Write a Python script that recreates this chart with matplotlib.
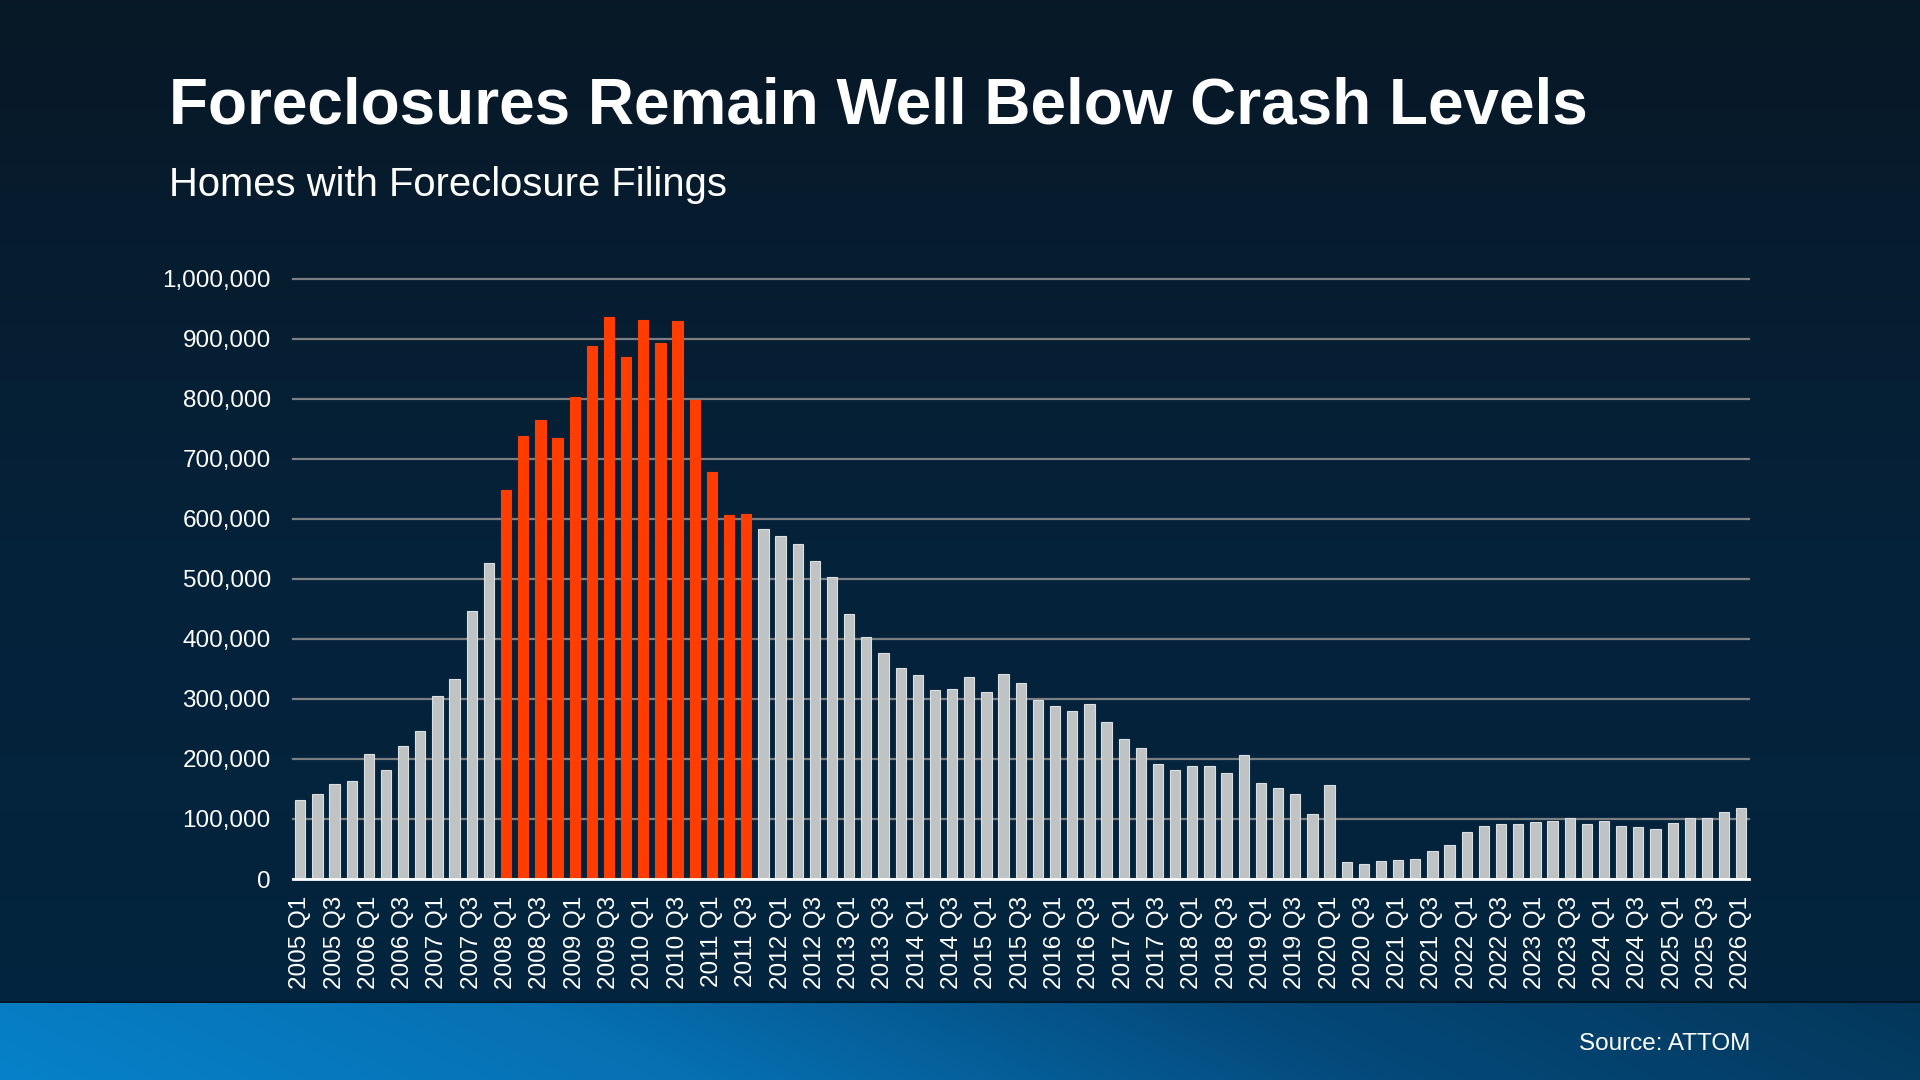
import numpy as np
import matplotlib
matplotlib.use("Agg")
import matplotlib.pyplot as plt
from matplotlib.colors import LinearSegmentedColormap

plt.rcParams['font.family'] = ['Liberation Sans', 'DejaVu Sans']

# quarters 2005 Q1 .. 2026 Q1
years = list(range(2005, 2027))
quarters = [f"{y} Q{q}" for y in years for q in (1, 2, 3, 4)][:85]

filings = [
    132000, 141000, 159000, 164000, 209000, 181000, 222000, 246000,
    305000, 333000, 446000, 527000, 649000, 739000, 765000, 735000,
    803000, 888000, 936000, 870000, 932000, 894000, 930000, 798000,
    679000, 607000, 609000, 584000, 572000, 558000, 530000, 503000,
    442000, 403000, 376000, 352000, 340000, 315000, 317000, 336000,
    312000, 342000, 326000, 299000, 288000, 280000, 292000, 261000,
    233000, 218000, 191000, 182000, 188000, 188000, 177000, 207000,
    160000, 151000, 141000, 109000, 156000, 28000, 25000, 30000,
    32000, 33000, 46000, 56000, 78000, 89000, 92000, 91000,
    95000, 97000, 101000, 92000, 96000, 89000, 86000, 84000,
    94000, 101000, 101000, 112000, 118000,
]

highlight_start = "2008 Q1"
highlight_end = "2011 Q3"

title = "Foreclosures Remain Well Below Crash Levels"
subtitle = "Homes with Foreclosure Filings"
source = "Source: ATTOM"

W, H = 1920, 1080
fig = plt.figure(figsize=(W / 100, H / 100), dpi=100)

# background gradient
bg = fig.add_axes([0, 0, 1, 1], zorder=-10)
bg_cmap = LinearSegmentedColormap.from_list("bg", ["#081826", "#05223a", "#03253f"])
grad = np.linspace(0, 1, 256).reshape(-1, 1)
bg.imshow(grad, aspect="auto", cmap=bg_cmap, extent=[0, 1, 0, 1], origin="upper")
bg.set_xlim(0, 1)
bg.set_ylim(0, 1)
bg.axis("off")

# bottom blue band
band_h = 78 / H
band = fig.add_axes([0, 0, 1, band_h], zorder=-9)
band_cmap = LinearSegmentedColormap.from_list("band", ["#0781c9", "#0670b2", "#04497a", "#03375a"])
gx = np.linspace(0, 1, 512)
gy = np.linspace(0, 1, 32)
GX, GY = np.meshgrid(gx, gy)
band.imshow(np.clip(GX * 0.92 + (1 - GY) * 0.08, 0, 1), aspect="auto", cmap=band_cmap,
            extent=[0, 1, 0, 1], origin="upper")
band.axis("off")
fig.add_artist(plt.Line2D([0, 1], [band_h, band_h], color="#021726", lw=1.5))

# chart
left, right = 293 / W, 1749 / W
bottom, top = (H - 879) / H, (H - 279) / H
ax = fig.add_axes([left, bottom, right - left, top - bottom])
ax.patch.set_alpha(0)

x = np.arange(len(quarters))
i0, i1 = quarters.index(highlight_start), quarters.index(highlight_end)
colors = ["#ff3d00" if i0 <= i <= i1 else "#bfc3c4" for i in range(len(quarters))]
edges = ["#ff3d00" if i0 <= i <= i1 else "#dcdfe0" for i in range(len(quarters))]
ax.bar(x, filings, width=0.6, color=colors, edgecolor=edges, linewidth=0.8, zorder=3)

ax.set_ylim(0, 1000000)
ax.set_xlim(-0.42, len(quarters) - 1 + 0.45)
ax.set_yticks(np.arange(0, 1000001, 100000))
ax.yaxis.set_major_formatter(matplotlib.ticker.FuncFormatter(lambda v, p: f"{int(v):,}"))
ax.grid(axis="y", color="#7c7f82", lw=1.6, zorder=0)
for gl in ax.get_ygridlines():
    gl.set_clip_on(False)

ax.set_xticks(x[::2])
ax.set_xticklabels(quarters[::2], rotation=90)
ax.tick_params(axis="both", length=0, colors="white", labelsize=17.5)
ax.tick_params(axis="y", pad=16)
ax.tick_params(axis="x", pad=12)

for s in ("top", "right", "left"):
    ax.spines[s].set_visible(False)
ax.spines["bottom"].set_color("white")
ax.spines["bottom"].set_linewidth(2)
ax.spines["bottom"].set_zorder(4)

# texts
fig.text(169 / W, 1 - 124 / H, title, color="white", fontsize=46, fontweight="bold",
         ha="left", va="baseline")
fig.text(169 / W, 1 - 196 / H, subtitle, color="white", fontsize=28.8,
         ha="left", va="baseline")
fig.text(1750 / W, 1 - 1050 / H, source, color="white", fontsize=17.5,
         ha="right", va="baseline")

fig.savefig("out.png", dpi=100)
